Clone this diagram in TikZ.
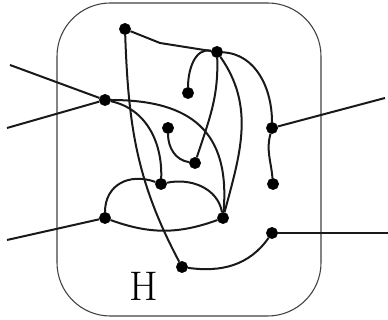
\documentclass[tikz,border=0pt]{standalone}
\usepackage{amsmath,amssymb}
\usetikzlibrary{positioning,calc}
\tikzset{bvert/.style={draw,circle,fill=black,minimum size=8.5pt,inner sep=0pt}  }
\tikzset{wire/.style={line width=1.5pt,black!90}  }

\begin{document}
\begin{tikzpicture}[x=0.75pt,y=0.75pt]
	\useasboundingbox (0,0) rectangle (388,320);
	\draw[line width=0.8pt,black!75,rounded corners=40pt] (57,4) rectangle (321,317);
	\node[font=\fontsize{31}{36}\selectfont] (hlab) at (144,34) {H};

		\coordinate[bvert] (a) at (125,291);
		\coordinate[bvert] (b) at (217,268);
		\coordinate[bvert] (c) at (188,227);
		\coordinate[bvert] (d) at (105,220);
		\coordinate[bvert] (e) at (168,192);
		\coordinate[bvert] (f) at (195,157);
		\coordinate[bvert] (g) at (272,192);
		\coordinate[bvert] (h) at (273,136);
		\coordinate[bvert] (i) at (161,136);
		\coordinate[bvert] (j) at (105,102);
		\coordinate[bvert] (k) at (223,102);
		\coordinate[bvert] (l) at (272,87);
		\coordinate[bvert] (m) at (182,53);
		\coordinate (bend) at (160,277);

		% outer legs
		\coordinate (d1) at (10,255);
		\coordinate (d2) at (7,192);
		\coordinate (j1) at (7,80);
		\coordinate (g1) at (385,222);
		\coordinate (l1) at (388,87);

			\draw[wire] (a) -- (bend) -- (b);
			\draw[wire]
				  (b) edge[out=168,in=90] (c) edge[out=-3,in=90] (g)
				      edge[out=-88,in=72] (f) edge[out=-55,in=75] (k)
				;
			\draw[wire] (a) to[out=-88,in=118] (m);
			\draw[wire]
				  (d) edge[out=0,in=85,looseness=1.3] (k) edge[out=-12,in=88] (i)
				      edge (d1) edge (d2)
				;
			\draw[wire] (e) to[out=-90,in=172] (f);
			\draw[wire] (g) to[out=-105,in=95] (h);
			\draw[wire] (g) -- (g1);
			\draw[wire]
				  (i) edge[out=160,in=90,looseness=1.2] (j) edge[out=12,in=100] (k)
				;
			\draw[wire] (j) to[out=-20,in=-160] (k);
			\draw[wire] (j) -- (j1);
			\draw[wire] (l) to[out=-125,in=-8] (m);
			\draw[wire] (l) -- (l1);
	\end{tikzpicture}
\end{document}
